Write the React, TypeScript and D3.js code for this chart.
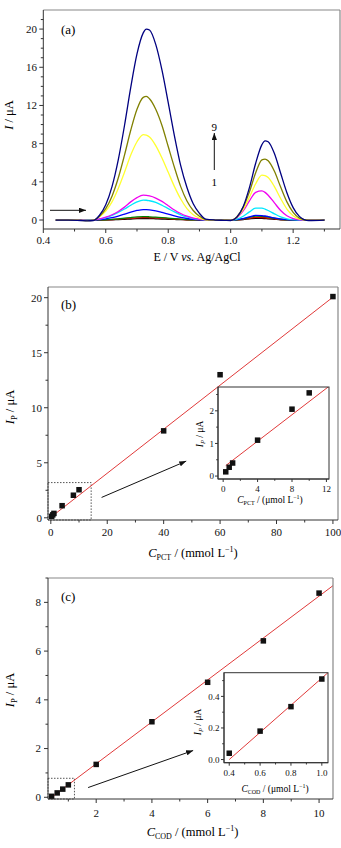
import React from "react";
import * as d3 from "d3";

const FONT = "'Liberation Serif', 'Times New Roman', serif";

// DPV scans: potential grid (V vs. Ag/AgCl) and currents (µA) for scans 1..9
const scanPotential = [0.44, 0.48, 0.52, 0.54, 0.56, 0.58, 0.6, 0.62, 0.64, 0.66, 0.68, 0.7, 0.72, 0.73, 0.74, 0.76, 0.78, 0.8, 0.82, 0.84, 0.86, 0.88, 0.9, 0.92, 0.95, 0.98, 1.0, 1.02, 1.04, 1.06, 1.08, 1.1, 1.11, 1.12, 1.14, 1.16, 1.18, 1.2, 1.22, 1.25, 1.3];
const scan1 = [0, 0, 0, 0, 0, 0, 0.01, 0.03, 0.05, 0.08, 0.11, 0.14, 0.15, 0.15, 0.15, 0.13, 0.11, 0.08, 0.06, 0.04, 0.02, 0.01, 0, 0, 0, 0, 0, 0.01, 0.05, 0.12, 0.17, 0.17, 0.15, 0.13, 0.08, 0.03, 0.01, 0, 0, 0, 0];
const scan2 = [0, 0, 0, 0, 0, 0.01, 0.02, 0.05, 0.09, 0.14, 0.19, 0.23, 0.25, 0.25, 0.24, 0.22, 0.19, 0.14, 0.1, 0.06, 0.03, 0.01, 0, 0, 0, 0, 0, 0.02, 0.08, 0.18, 0.27, 0.26, 0.24, 0.2, 0.12, 0.05, 0.02, 0, 0, 0, 0];
const scan3 = [0, 0, 0, 0, 0, 0.01, 0.03, 0.07, 0.12, 0.19, 0.26, 0.32, 0.35, 0.35, 0.34, 0.31, 0.26, 0.2, 0.14, 0.09, 0.05, 0.02, 0.01, 0, 0, 0, 0, 0.03, 0.13, 0.28, 0.4, 0.39, 0.35, 0.3, 0.18, 0.08, 0.03, 0.01, 0, 0, 0];
const scan4 = [0, 0, -0.01, -0.02, 0, 0.05, 0.13, 0.25, 0.42, 0.62, 0.83, 1.0, 1.1, 1.09, 1.06, 0.96, 0.8, 0.62, 0.44, 0.28, 0.16, 0.08, 0.03, 0, 0, 0, 0, 0.04, 0.15, 0.33, 0.48, 0.46, 0.42, 0.36, 0.22, 0.1, 0.04, 0.01, 0, 0, 0];
const scan5 = [0, 0, -0.01, -0.02, 0, 0.1, 0.25, 0.48, 0.8, 1.15, 1.55, 1.9, 2.08, 2.07, 2.02, 1.85, 1.55, 1.2, 0.85, 0.55, 0.32, 0.16, 0.06, 0.01, 0, 0, 0, 0.1, 0.4, 0.85, 1.25, 1.25, 1.15, 1.0, 0.65, 0.33, 0.13, 0.04, 0, 0, 0];
const scan6 = [0, 0, -0.02, -0.03, 0, 0.12, 0.3, 0.55, 0.9, 1.35, 1.9, 2.35, 2.6, 2.58, 2.52, 2.3, 1.95, 1.5, 1.05, 0.68, 0.4, 0.2, 0.08, 0.02, 0, 0, 0, 0.25, 0.95, 2.0, 2.9, 3.05, 2.9, 2.6, 1.8, 1.0, 0.45, 0.15, 0.03, 0, 0];
const scan7 = [0, 0, -0.03, -0.05, -0.02, 0.35, 0.95, 1.9, 3.3, 5.0, 6.8, 8.2, 8.95, 8.9, 8.7, 7.8, 6.5, 5.0, 3.5, 2.2, 1.2, 0.55, 0.2, 0.02, 0, -0.01, -0.02, 0.3, 1.1, 2.4, 3.8, 4.7, 4.65, 4.45, 3.5, 2.25, 1.15, 0.45, 0.1, 0, 0];
const scan8 = [0, 0, -0.04, -0.07, -0.03, 0.4, 1.2, 2.5, 4.4, 6.8, 9.4, 11.6, 12.85, 12.95, 12.7, 11.6, 9.9, 7.7, 5.5, 3.5, 2.0, 1.0, 0.4, 0.05, 0, -0.02, -0.03, 0.35, 1.35, 2.95, 4.95, 6.3, 6.38, 6.2, 5.1, 3.45, 1.9, 0.8, 0.2, -0.03, 0];
const scan9 = [0, 0, -0.05, -0.08, -0.05, 0.5, 1.6, 3.5, 6.3, 9.9, 13.9, 17.4, 19.6, 20.0, 19.9, 18.4, 15.7, 12.3, 8.8, 5.7, 3.4, 1.7, 0.7, 0.1, 0, -0.03, -0.05, 0.31, 1.4, 3.4, 5.95, 7.9, 8.3, 8.2, 6.96, 4.9, 2.86, 1.3, 0.38, -0.05, 0];
const scans = [scan1, scan2, scan3, scan4, scan5, scan6, scan7, scan8, scan9];
const scanColors = ["#000000", "#e00000", "#008000", "#0000ff", "#00e8ff", "#f000f0", "#ffff30", "#808000", "#000080"];

// Calibration, PCT: concentration and peak current
const pctConc = [0.3, 0.7, 1.1, 4, 8, 10, 40, 60, 100];
const pctPeak = [0.13, 0.27, 0.4, 1.1, 2.05, 2.55, 7.9, 13.0, 20.1];
const pctFit = [0.05, 0.2]; // intercept, slope
const pctFitLow = [0.26, 0.2025];

// Calibration, COD
const codConc = [0.4, 0.6, 0.8, 1.0, 2, 4, 6, 8, 10];
const codPeak = [0.04, 0.18, 0.335, 0.51, 1.35, 3.1, 4.72, 6.42, 8.38];
const codFit = [-0.344, 0.86];

// tick values
const aTicksX = [0.4, 0.6, 0.8, 1.0, 1.2];
const aTicksY = [0, 4, 8, 12, 16, 20];
const bTicksX = [0, 20, 40, 60, 80, 100];
const bTicksY = [0, 5, 10, 15, 20];
const bInTicksX = [0, 4, 8, 12];
const bInTicksY = [0, 1, 2];
const cTicksX = [2, 4, 6, 8, 10];
const cTicksY = [0, 2, 4, 6, 8];
const cInTicksX = [0.4, 0.6, 0.8, 1.0];
const cInTicksY = [0.0, 0.2, 0.4];

type S = d3.ScaleLinear<number, number>;

function LeftAxis({ y, at, ticks, minor, fmt, fs, len = 4, mlen = 2.5, labelX, color = "#333" }: any) {
  const [r0, r1] = (y as S).range();
  return (
    <g stroke={color} strokeWidth={1}>
      <line x1={at} x2={at} y1={r0} y2={r1} />
      {minor.map((v: number) => <line key={"m" + v} x1={at - mlen} x2={at} y1={y(v)} y2={y(v)} />)}
      {ticks.map((v: number) => <line key={"t" + v} x1={at - len} x2={at} y1={y(v)} y2={y(v)} />)}
      {ticks.map((v: number) => (
        <text key={"l" + v} x={labelX} y={y(v)} dy="0.35em" textAnchor="end" fontSize={fs} stroke="none" fill="#111">{fmt(v)}</text>
      ))}
    </g>
  );
}

function BottomAxis({ x, at, ticks, minor, fmt, fs, len = 4, mlen = 2.5, labelY, color = "#333" }: any) {
  const [r0, r1] = (x as S).range();
  return (
    <g stroke={color} strokeWidth={1}>
      <line x1={r0} x2={r1} y1={at} y2={at} />
      {minor.map((v: number) => <line key={"m" + v} x1={x(v)} x2={x(v)} y1={at} y2={at + mlen} />)}
      {ticks.map((v: number) => <line key={"t" + v} x1={x(v)} x2={x(v)} y1={at} y2={at + len} />)}
      {ticks.map((v: number) => (
        <text key={"l" + v} x={x(v)} y={labelY} textAnchor="middle" fontSize={fs} stroke="none" fill="#111">{fmt(v)}</text>
      ))}
    </g>
  );
}

function Frame({ x, y, color = "#888" }: { x: S; y: S; color?: string }) {
  const [x0, x1] = x.range();
  const [y0, y1] = y.range();
  return (
    <g stroke={color} strokeWidth={1.2} fill="none">
      <line x1={x0} x2={x1} y1={y1} y2={y1} />
      <line x1={x1} x2={x1} y1={y0} y2={y1} />
    </g>
  );
}

function Squares({ x, y, xs, ys, size = 5.5 }: any) {
  return (
    <g fill="#111">
      {xs.map((v: number, i: number) => (
        <rect key={i} x={x(v) - size / 2} y={y(ys[i]) - size / 2} width={size} height={size} />
      ))}
    </g>
  );
}

function FitLine({ x, y, fit, from, to }: any) {
  return (
    <line x1={x(from)} y1={y(fit[0] + fit[1] * from)} x2={x(to)} y2={y(fit[0] + fit[1] * to)}
      stroke="#e03a3a" strokeWidth={1} />
  );
}

const minorBetween = (lo: number, hi: number, step: number, majors: number[]) =>
  d3.range(lo, hi + step / 2, step).filter((v) => !majors.some((m) => Math.abs(m - v) < step / 10));

export default function App() {
  // panel (a)
  const xA = d3.scaleLinear([0.4, 1.35], [43.3, 340]);
  const yA = d3.scaleLinear([-0.94, 22], [229, 10]);
  const scanLine = d3.line<number>()
    .x((_, i) => xA(scanPotential[i]))
    .y((d) => yA(d))
    .curve(d3.curveMonotoneX);

  // panel (b)
  const xB = d3.scaleLinear([-1, 101.8], [48, 338]);
  const yB = d3.scaleLinear([-0.2, 20.97], [520, 287]);
  const xBi = d3.scaleLinear([-0.6, 12.3], [218, 329]);
  const yBi = d3.scaleLinear([-0.09, 2.73], [479, 387]);

  // panel (c)
  const xC = d3.scaleLinear([0.27, 10.5], [48, 333]);
  const yC = d3.scaleLinear([-0.07, 9.0], [799, 578]);
  const xCi = d3.scaleLinear([0.366, 1.04], [224, 328]);
  const yCi = d3.scaleLinear([-0.02, 0.55], [762.7, 672.7]);

  const f0 = (v: number) => d3.format("d")(v);
  const f1 = (v: number) => d3.format(".1f")(v);

  const nB = 6; // points shown in the (b) inset
  const nC = 4; // points shown in the (c) inset

  return (
    <svg width={341} height={848} style={{ position: "absolute", left: 0, top: 0, background: "#fff" }}
      fontFamily={FONT}>
      <defs>
        <marker id="head" viewBox="0 0 8 6" refX={8} refY={3} markerWidth={7} markerHeight={5.5}
          markerUnits="userSpaceOnUse" orient="auto">
          <path d="M0,0 L8,3 L0,6 z" fill="#111" />
        </marker>
        <clipPath id="clipBi">
          <rect x={218} y={387} width={111} height={92} />
        </clipPath>
        <clipPath id="clipCi">
          <rect x={224} y={672.7} width={104} height={90} />
        </clipPath>
      </defs>

      {/* (a) DPV curves */}
      <g>
        {scans.map((s, i) => (
          <path key={i} d={scanLine(s) || ""} fill="none" stroke={scanColors[i]} strokeWidth={1.3} />
        ))}
        <Frame x={xA} y={yA} />
        <LeftAxis y={yA} at={43.3} ticks={aTicksY} minor={minorBetween(0, 21, 1, aTicksY)} fmt={f0} fs={11} labelX={37} />
        <BottomAxis x={xA} at={229} ticks={aTicksX} minor={minorBetween(0.5, 1.3, 0.2, [])} fmt={f1} fs={11} labelY={243.5} />
        <text x={61} y={33.5} fontSize={13}>(a)</text>
        <line x1={50} x2={86} y1={210.3} y2={210.3} stroke="#111" strokeWidth={1} markerEnd="url(#head)" />
        <line x1={214.3} x2={214.3} y1={170} y2={133} stroke="#111" strokeWidth={1} markerEnd="url(#head)" />
        <text x={214.3} y={130.5} fontSize={11} textAnchor="middle">9</text>
        <text x={214.3} y={185.7} fontSize={11} textAnchor="middle">1</text>
        <text x={197} y={261} fontSize={12} textAnchor="middle">
          E / V <tspan fontStyle="italic">vs.</tspan> Ag/AgCl
        </text>
        <text transform="translate(13,115) rotate(-90)" fontSize={12.5} textAnchor="middle">
          <tspan fontStyle="italic">I</tspan> / μA
        </text>
      </g>

      {/* (b) PCT calibration */}
      <g>
        <rect x={xB(-1)} y={yB(3.2)} width={xB(14.3) - xB(-1)} height={yB(-0.2) - yB(3.2)}
          fill="none" stroke="#555" strokeWidth={1} strokeDasharray="1.5,1.5" />
        <FitLine x={xB} y={yB} fit={pctFit} from={0} to={100} />
        <Squares x={xB} y={yB} xs={pctConc} ys={pctPeak} size={5.5} />
        <Frame x={xB} y={yB} />
        <LeftAxis y={yB} at={48} ticks={bTicksY} minor={minorBetween(2.5, 20, 2.5, bTicksY)} fmt={f0} fs={11} labelX={42} />
        <BottomAxis x={xB} at={520} ticks={bTicksX} minor={minorBetween(10, 90, 10, bTicksX)} fmt={f0} fs={11} labelY={535.5} />
        <text x={61} y={309} fontSize={13}>(b)</text>
        <line x1={xB(18)} y1={yB(1.85)} x2={xB(48)} y2={yB(5.15)} stroke="#111" strokeWidth={1} markerEnd="url(#head)" />
        <text x={193} y={557} fontSize={12.5} textAnchor="middle">
          <tspan fontStyle="italic">C</tspan>
          <tspan dy={3} fontSize={8}>PCT</tspan>
          <tspan dy={-3}> / (mmol L</tspan>
          <tspan dy={-5} fontSize={8}>−1</tspan>
          <tspan dy={5}>)</tspan>
        </text>
        <text transform="translate(14,407) rotate(-90)" fontSize={12.5} textAnchor="middle">
          <tspan fontStyle="italic">I</tspan>
          <tspan dy={3} fontSize={8.5}>P</tspan>
          <tspan dy={-3}> / μA</tspan>
        </text>

        {/* inset */}
        <rect x={218} y={387} width={111} height={92} fill="#fff" />
        <g clipPath="url(#clipBi)">
          <FitLine x={xBi} y={yBi} fit={pctFitLow} from={0.3} to={12.3} />
        </g>
        <Squares x={xBi} y={yBi} xs={pctConc.slice(0, nB)} ys={pctPeak.slice(0, nB)} size={5.5} />
        <rect x={218} y={387} width={111} height={92} fill="none" stroke="#333" strokeWidth={1} />
        <LeftAxis y={yBi} at={218} ticks={bInTicksY} minor={minorBetween(0.5, 2.5, 0.5, bInTicksY)} fmt={f0} fs={9} len={3} mlen={1.8} labelX={214} />
        <BottomAxis x={xBi} at={479} ticks={bInTicksX} minor={minorBetween(2, 10, 2, bInTicksX)} fmt={f0} fs={9} len={3} mlen={1.8} labelY={491.5} />
        <text x={270} y={502.5} fontSize={9.5} textAnchor="middle">
          <tspan fontStyle="italic">C</tspan>
          <tspan dy={2} fontSize={6}>PCT</tspan>
          <tspan dy={-2}> / (μmol L</tspan>
          <tspan dy={-4} fontSize={6}>−1</tspan>
          <tspan dy={4}>)</tspan>
        </text>
        <text transform="translate(203,434) rotate(-90)" fontSize={9.5} textAnchor="middle">
          <tspan fontStyle="italic">I</tspan>
          <tspan dy={2} fontSize={6.5} fontStyle="italic">P</tspan>
          <tspan dy={-2}> / μA</tspan>
        </text>
      </g>

      {/* (c) COD calibration */}
      <g>
        <rect x={xC(0.27)} y={yC(0.78)} width={xC(1.22) - xC(0.27)} height={yC(-0.07) - yC(0.78)}
          fill="none" stroke="#555" strokeWidth={1} strokeDasharray="1.5,1.5" />
        <FitLine x={xC} y={yC} fit={codFit} from={0.36} to={10.5} />
        <Squares x={xC} y={yC} xs={codConc} ys={codPeak} size={5.5} />
        <Frame x={xC} y={yC} />
        <LeftAxis y={yC} at={48} ticks={cTicksY} minor={minorBetween(1, 9, 1, cTicksY)} fmt={f0} fs={11} labelX={41} />
        <BottomAxis x={xC} at={799} ticks={cTicksX} minor={minorBetween(1, 9, 1, cTicksX)} fmt={f0} fs={11} labelY={816.5} />
        <text x={61} y={600.5} fontSize={13}>(c)</text>
        <line x1={xC(1.71)} y1={yC(0.4)} x2={xC(5.48)} y2={yC(1.92)} stroke="#111" strokeWidth={1} markerEnd="url(#head)" />
        <text x={192.5} y={836} fontSize={12.5} textAnchor="middle">
          <tspan fontStyle="italic">C</tspan>
          <tspan dy={3} fontSize={8}>COD</tspan>
          <tspan dy={-3}> / (mmol L</tspan>
          <tspan dy={-5} fontSize={8}>−1</tspan>
          <tspan dy={5}>)</tspan>
        </text>
        <text transform="translate(14,690) rotate(-90)" fontSize={12.5} textAnchor="middle">
          <tspan fontStyle="italic">I</tspan>
          <tspan dy={3} fontSize={8.5}>P</tspan>
          <tspan dy={-3}> / μA</tspan>
        </text>

        {/* inset */}
        <rect x={224} y={672.7} width={104} height={90} fill="#fff" />
        <g clipPath="url(#clipCi)">
          <FitLine x={xCi} y={yCi} fit={codFit} from={0.4} to={1.04} />
        </g>
        <Squares x={xCi} y={yCi} xs={codConc.slice(0, nC)} ys={codPeak.slice(0, nC)} size={5.5} />
        <rect x={224} y={672.7} width={104} height={90} fill="none" stroke="#333" strokeWidth={1} />
        <LeftAxis y={yCi} at={224} ticks={cInTicksY} minor={minorBetween(0.1, 0.5, 0.1, cInTicksY)} fmt={f1} fs={9} len={3} mlen={1.8} labelX={219.5} />
        <BottomAxis x={xCi} at={762.7} ticks={cInTicksX} minor={minorBetween(0.5, 0.9, 0.2, [])} fmt={f1} fs={9} len={3} mlen={1.8} labelY={775.5} />
        <text x={275} y={792} fontSize={9.5} textAnchor="middle">
          <tspan fontStyle="italic">C</tspan>
          <tspan dy={2} fontSize={6}>COD</tspan>
          <tspan dy={-2}> / (μmol L</tspan>
          <tspan dy={-4} fontSize={6}>−1</tspan>
          <tspan dy={4}>)</tspan>
        </text>
        <text transform="translate(201,722) rotate(-90)" fontSize={9.5} textAnchor="middle">
          <tspan fontStyle="italic">I</tspan>
          <tspan dy={2} fontSize={6.5} fontStyle="italic">P</tspan>
          <tspan dy={-2}> / μA</tspan>
        </text>
      </g>
    </svg>
  );
}
